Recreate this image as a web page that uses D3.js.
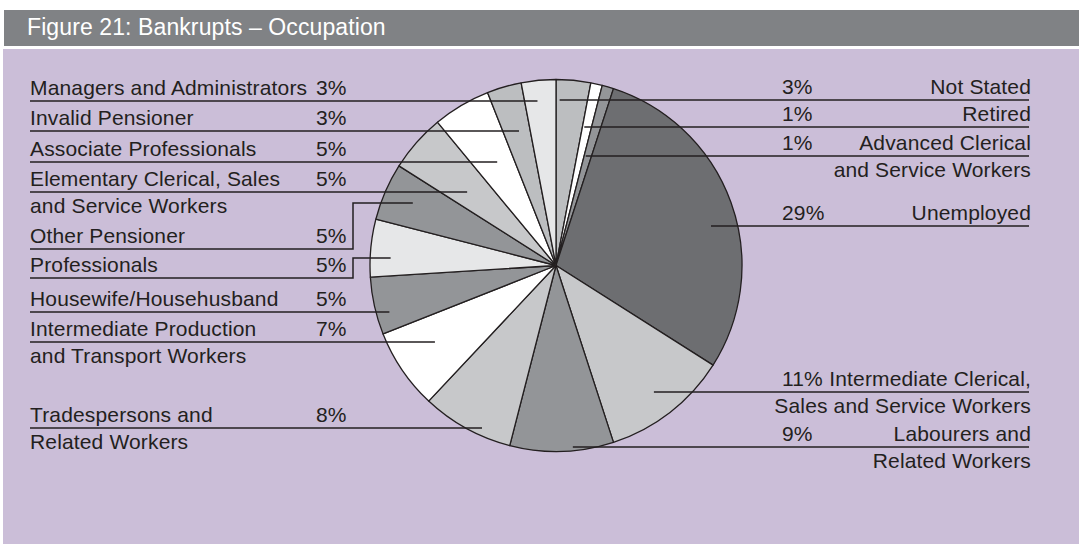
<!DOCTYPE html>
<html>
<head>
<meta charset="utf-8">
<script src="https://cdn.jsdelivr.net/npm/d3@7"></script>
<style>
  body { margin: 0; background: #ffffff; }
  svg { display: block; }
  text { font-family: "Liberation Sans", Arial, sans-serif; }
</style>
</head>
<body>
<svg id="chart" width="1079" height="544"></svg>
<script>
// Data, clockwise from 12 o'clock
var categories = [
  "Not Stated", "Retired", "Advanced Clerical and Service Workers", "Unemployed",
  "Intermediate Clerical, Sales and Service Workers", "Labourers and Related Workers",
  "Tradespersons and Related Workers", "Intermediate Production and Transport Workers",
  "Housewife/Househusband", "Professionals", "Other Pensioner",
  "Elementary Clerical, Sales and Service Workers", "Associate Professionals",
  "Invalid Pensioner", "Managers and Administrators"
];
var values = [3, 1, 1, 29, 11, 9, 8, 7, 5, 5, 5, 5, 5, 3, 3];
var pctLabels = ["3%", "1%", "1%", "29%", "11%", "9%", "8%", "7%", "5%", "5%", "5%", "5%", "5%", "3%", "3%"];

// how each label is broken over lines (first line sits on the underline)
var labelLines = [
  ["Not Stated"], ["Retired"], ["Advanced Clerical", "and Service Workers"], ["Unemployed"],
  ["Intermediate Clerical,", "Sales and Service Workers"], ["Labourers and", "Related Workers"],
  ["Tradespersons and", "Related Workers"], ["Intermediate Production", "and Transport Workers"],
  ["Housewife/Househusband"], ["Professionals"], ["Other Pensioner"],
  ["Elementary Clerical, Sales", "and Service Workers"], ["Associate Professionals"],
  ["Invalid Pensioner"], ["Managers and Administrators"]
];

// grey shade of each slice
var shades = ["#bcbec0", "#ffffff", "#939598", "#6d6e71", "#c7c8ca", "#939598", "#c7c8ca",
              "#ffffff", "#939598", "#e6e7e8", "#939598", "#c7c8ca", "#ffffff", "#bcbec0", "#e6e7e8"];

// label layout: baseline of the first line, how deep the leader goes into the slice,
// and an optional step up/down for the leaders that have an elbow
var labelBaseline = [94, 121, 150, 220, 386, 441, 422, 336, 306, 272, 243, 186, 156, 125, 95];
var leaderDepth = [0.89, 0.76, 0.61, 0.86, 0.86, 0.98, 0.96, 0.77, 0.93, 0.89, 0.84, 0.62, 0.64, 0.75, 0.89];
var elbowY = [null, null, null, null, null, null, null, null, null, 258, 203, null, null, null, null];

var width = 1079, height = 544;
var cx = 556, cy = 265.5, radius = 186;
var ink = "#231f20";
var labelFont = "21px";

var svg = d3.select("#chart");

// Panel and header band
svg.append("rect")
  .attr("x", 3).attr("y", 49).attr("width", width - 3).attr("height", height - 49)
  .attr("fill", "#cbbed8");
svg.append("rect")
  .attr("x", 4).attr("y", 10).attr("width", width - 4).attr("height", 36)
  .attr("fill", "#808285");
svg.append("text")
  .attr("x", 27).attr("y", 35)
  .attr("fill", "#ffffff")
  .style("font-size", "23px")
  .style("letter-spacing", "0.1px")
  .text("Figure 21: Bankrupts \u2013 Occupation");

// The pie
var pie = d3.pie().sort(null).value(function(d) { return d; });
var arcs = pie(values);
var arc = d3.arc().innerRadius(0).outerRadius(radius);

var g = svg.append("g").attr("transform", "translate(" + cx + "," + cy + ")");
g.selectAll("path.slice")
  .data(arcs)
  .enter().append("path")
  .attr("class", "slice")
  .attr("d", arc)
  .attr("fill", function(d, i) { return shades[i]; })
  .attr("stroke", ink)
  .attr("stroke-width", 1.3)
  .attr("stroke-linejoin", "round");

// Leaders and labels
var leftX = 30, rightX = 1029, leftPctX = 316, rightPctX = 782, elbowX = 353;
var lineGap = 26.5;

arcs.forEach(function(a, i) {
  var mid = (a.startAngle + a.endAngle) / 2;
  var right = Math.sin(mid) > 0;
  var underY = labelBaseline[i] + 6;
  var hy = elbowY[i] != null ? elbowY[i] : underY; // height of the part that enters the pie
  var r = leaderDepth[i] * radius;
  var dy = hy - cy;
  var dx = Math.sqrt(Math.max(r * r - dy * dy, 0));
  var endX = right ? cx + dx : cx - dx;

  var pts;
  if (right) {
    pts = [[endX, hy], [rightX, hy]];
  } else if (elbowY[i] != null) {
    pts = [[leftX, underY], [elbowX, underY], [elbowX, hy], [endX, hy]];
  } else {
    pts = [[leftX, underY], [endX, underY]];
  }
  svg.append("path")
    .attr("d", d3.line()(pts))
    .attr("fill", "none")
    .attr("stroke", ink)
    .attr("stroke-width", 1.5);

  // percentage
  svg.append("text")
    .attr("x", right ? rightPctX : leftPctX)
    .attr("y", labelBaseline[i])
    .attr("fill", ink)
    .style("font-size", labelFont)
    .style("letter-spacing", "0.15px")
    .text(pctLabels[i]);

  // category name, one text per line
  labelLines[i].forEach(function(line, j) {
    svg.append("text")
      .attr("x", right ? rightX + 2 : leftX)
      .attr("y", labelBaseline[i] + j * lineGap)
      .attr("text-anchor", right ? "end" : "start")
      .attr("fill", ink)
      .style("font-size", labelFont)
      .style("letter-spacing", "0.15px")
      .text(line);
  });
});
</script>
</body>
</html>
